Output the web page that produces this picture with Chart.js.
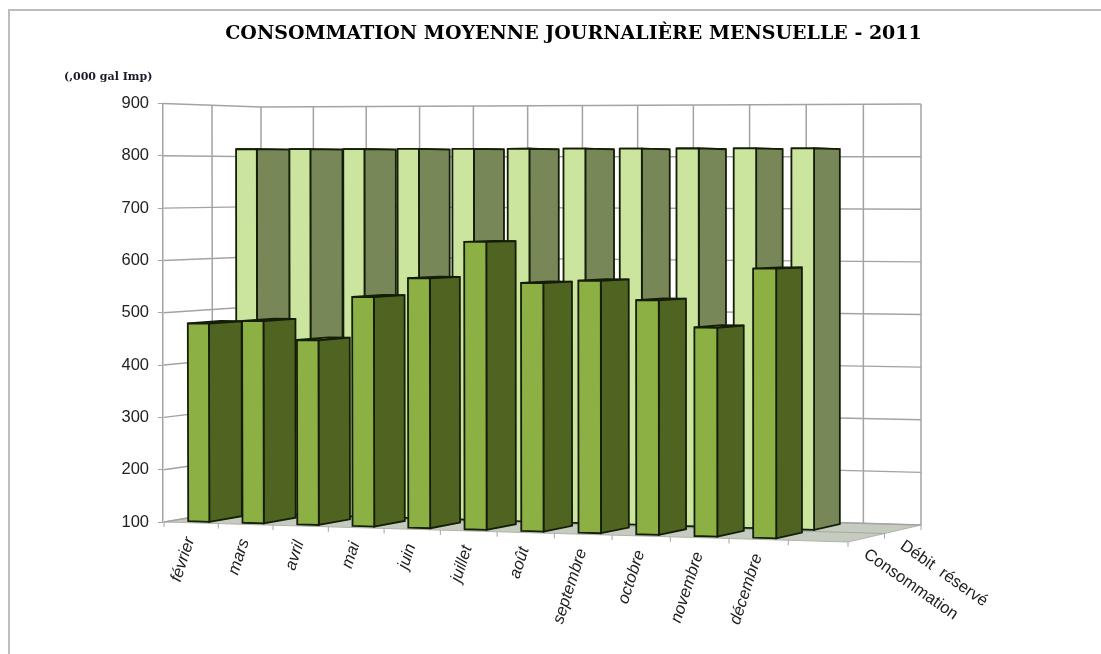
<!DOCTYPE html>
<html lang="fr">
<head>
<meta charset="utf-8">
<title>Consommation moyenne journalière mensuelle - 2011</title>
<script src="https://cdn.jsdelivr.net/npm/chart.js@4/dist/chart.umd.min.js"></script>
<style>
  html, body { margin: 0; background: #fff; }
  canvas { display: block; }
</style>
</head>
<body>
<canvas id="chart" width="1101" height="654"></canvas>
<script>
const chartTitle = "CONSOMMATION MOYENNE JOURNALIÈRE MENSUELLE - 2011";
const unitLabel = "(,000 gal Imp)";
// last category is empty in the original chart
const months = ["février", "mars", "avril", "mai", "juin", "juillet", "août", "septembre", "octobre", "novembre", "décembre", ""];
const consommation = [479, 485, 450, 533, 569, 638, 562, 567, 532, 483, 592, null];
const debitReserve = [814, 814, 814, 814, 814, 814, 814, 814, 814, 814, 814, null];
const seriesNames = ["Consommation", "Débit  réservé"];
const yMin = 100;
const yMax = 900;
const yStep = 100;

// corners of the 3D box on screen, used to project scale pixels
const floorBox = { fl: [164, 522], fr: [848, 542], bl: [261, 505.5], br: [921, 525] };
const ceilBox = { fl: [163, 103.5], fr: [848, 99], bl: [261, 107], br: [921, 104] };
const curve = 0.052; // categories get wider to the right
const rowDepth = [[0.08, 0.42], [0.58, 0.92]];

const gridColor = "#a3a3a3";
const outline = "#141d06";
const faces = [
  { front: "#8cb043", side: "#4f6420" },
  { front: "#cbe49e", side: "#778758" },
];

const lerp = (a, b, t) => a + (b - a) * t;

function project(u, d, h) {
  const corner = (box, n) =>
    lerp(lerp(box.fl[n], box.fr[n], u), lerp(box.bl[n], box.br[n], u), d);
  return [
    lerp(corner(floorBox, 0), corner(ceilBox, 0), h),
    lerp(corner(floorBox, 1), corner(ceilBox, 1), h),
  ];
}

function poly(ctx, points, fill, stroke, width) {
  ctx.beginPath();
  points.forEach((p, i) => (i ? ctx.lineTo(p[0], p[1]) : ctx.moveTo(p[0], p[1])));
  if (fill) {
    ctx.closePath();
    ctx.fillStyle = fill;
    ctx.fill();
  }
  ctx.strokeStyle = stroke;
  ctx.lineWidth = width;
  ctx.stroke();
}

function rotatedText(ctx, text, x, y, angle, font, align) {
  ctx.save();
  ctx.translate(x, y);
  ctx.rotate((angle * Math.PI) / 180);
  ctx.font = font;
  ctx.fillStyle = "#222";
  ctx.textAlign = align;
  ctx.textBaseline = "middle";
  ctx.fillText(text, 0, 0);
  ctx.restore();
}

const box3d = {
  id: "box3d",
  beforeDraw(chart) {
    const ctx = chart.ctx;
    ctx.save();
    ctx.fillStyle = "#fff";
    ctx.fillRect(0, 0, chart.width, chart.height);
    // outer frame, only top and left are visible
    poly(ctx, [[chart.width, 10], [9, 10], [9, chart.height]], null, "#bdbdbd", 2);
    ctx.restore();
  },
  beforeDatasetsDraw(chart) {
    const ctx = chart.ctx;
    const x = chart.scales.x;
    const y = chart.scales.y;
    const toU = (px) => {
      const t = (px - x.left) / (x.right - x.left);
      return t + curve * (t * t - t);
    };
    const toH = (py) => (y.bottom - py) / (y.bottom - y.top);

    ctx.save();
    // floor
    poly(ctx, [project(0, 0, 0), project(1, 0, 0), project(1, 1, 0), project(0, 1, 0)], "#c5cbbf", "#b0b4aa", 1);
    poly(ctx, [project(0, 0.5, 0), project(1, 0.5, 0)], null, "#a5aaa0", 1);

    // horizontal grid lines, on the side wall then on the back wall
    y.ticks.forEach((tick) => {
      const h = toH(y.getPixelForValue(tick.value));
      poly(ctx, [project(0, 0, h), project(0, 1, h), project(1, 1, h)], null, gridColor, 1.5);
    });
    // vertical grid lines
    poly(ctx, [project(0, 0.5, 0), project(0, 0.5, 1)], null, gridColor, 1.5);
    for (let i = 0; i <= months.length; i++) {
      const u = toU(x.left + ((x.right - x.left) * i) / months.length);
      poly(ctx, [project(u, 1, 0), project(u, 1, 1)], null, gridColor, 1.5);
      // little ticks under the front edge of the floor
      const p = project(u, 0, 0);
      poly(ctx, [p, [p[0], p[1] + 5]], null, gridColor, 1);
    }
    const mid = project(1, 0.5, 0);
    poly(ctx, [mid, [mid[0], mid[1] + 5]], null, gridColor, 1);
    const end = project(1, 1, 0);
    poly(ctx, [end, [end[0], end[1] + 5]], null, gridColor, 1);

    // back row first, then front row, each bar from its library element
    [1, 0].forEach((row) => {
      const [d0, d1] = rowDepth[row];
      chart.getDatasetMeta(row).data.forEach((bar, i) => {
        if (chart.data.datasets[row].data[i] == null) return;
        const u0 = toU(bar.x - bar.width / 2);
        const u1 = toU(bar.x + bar.width / 2);
        const h = toH(bar.y);
        const a = project(u0, d0, 0);
        const b = project(u1, d0, 0);
        const c = project(u1, d0, h);
        const e = project(u0, d0, h);
        const f = project(u1, d1, 0);
        const g = project(u1, d1, h);
        const k = project(u0, d1, h);
        poly(ctx, [e, c, g, k], faces[row].front, outline, 1.8);
        poly(ctx, [b, f, g, c], faces[row].side, outline, 1.8);
        poly(ctx, [a, b, c, e], faces[row].front, outline, 1.8);
      });
    });
    ctx.restore();
    return false; // bars are drawn above, skip the flat ones
  },
  afterDraw(chart) {
    const ctx = chart.ctx;
    const x = chart.scales.x;
    ctx.save();
    ctx.font = 'bold 19px "DejaVu Serif"';
    ctx.fillStyle = "#000";
    ctx.textAlign = "center";
    ctx.textBaseline = "middle";
    ctx.fillText(chartTitle, 573.5, 34);
    ctx.font = 'bold 11px "DejaVu Serif"';
    ctx.fillStyle = "#1a1a2a";
    ctx.textAlign = "left";
    ctx.fillText(unitLabel, 64, 77);
    ctx.restore();

    months.forEach((label, i) => {
      if (!label) return;
      const t = (x.getPixelForValue(i) - x.left) / (x.right - x.left);
      const p = project(t + curve * (t * t - t), 0, 0);
      rotatedText(ctx, label, p[0] - 1, p[1] + 15, -72, 'italic 16.5px "Liberation Sans"', "right");
    });
    seriesNames.forEach((name, i) => {
      const p = project(1, 0.25 + i * 0.5, 0);
      rotatedText(ctx, name, p[0] - 1, p[1] + 15, 35, '16.5px "Liberation Sans"', "left");
    });
  },
};

new Chart(document.getElementById("chart"), {
  type: "bar",
  data: {
    labels: months,
    datasets: [
      {
        label: seriesNames[0],
        data: consommation,
        backgroundColor: faces[0].front,
        grouped: false,
        barPercentage: 0.39,
        categoryPercentage: 1,
      },
      {
        label: seriesNames[1],
        data: debitReserve,
        backgroundColor: faces[1].front,
        grouped: false,
        barPercentage: 0.39,
        categoryPercentage: 1,
      },
    ],
  },
  options: {
    responsive: false,
    animation: false,
    layout: { padding: { top: 103.5, right: 253, bottom: 132, left: 0 } },
    plugins: { legend: { display: false }, tooltip: { enabled: false } },
    scales: {
      x: { display: false },
      y: {
        min: yMin,
        max: yMax,
        afterFit: (scale) => { scale.width = 163; },
        ticks: {
          stepSize: yStep,
          color: "#222",
          padding: 9,
          font: { family: '"Liberation Sans"', size: 16.5 },
        },
        grid: { drawOnChartArea: false, color: gridColor, tickLength: 5 },
        border: { color: gridColor, width: 1.5 },
      },
    },
  },
  plugins: [box3d],
});
</script>
</body>
</html>
